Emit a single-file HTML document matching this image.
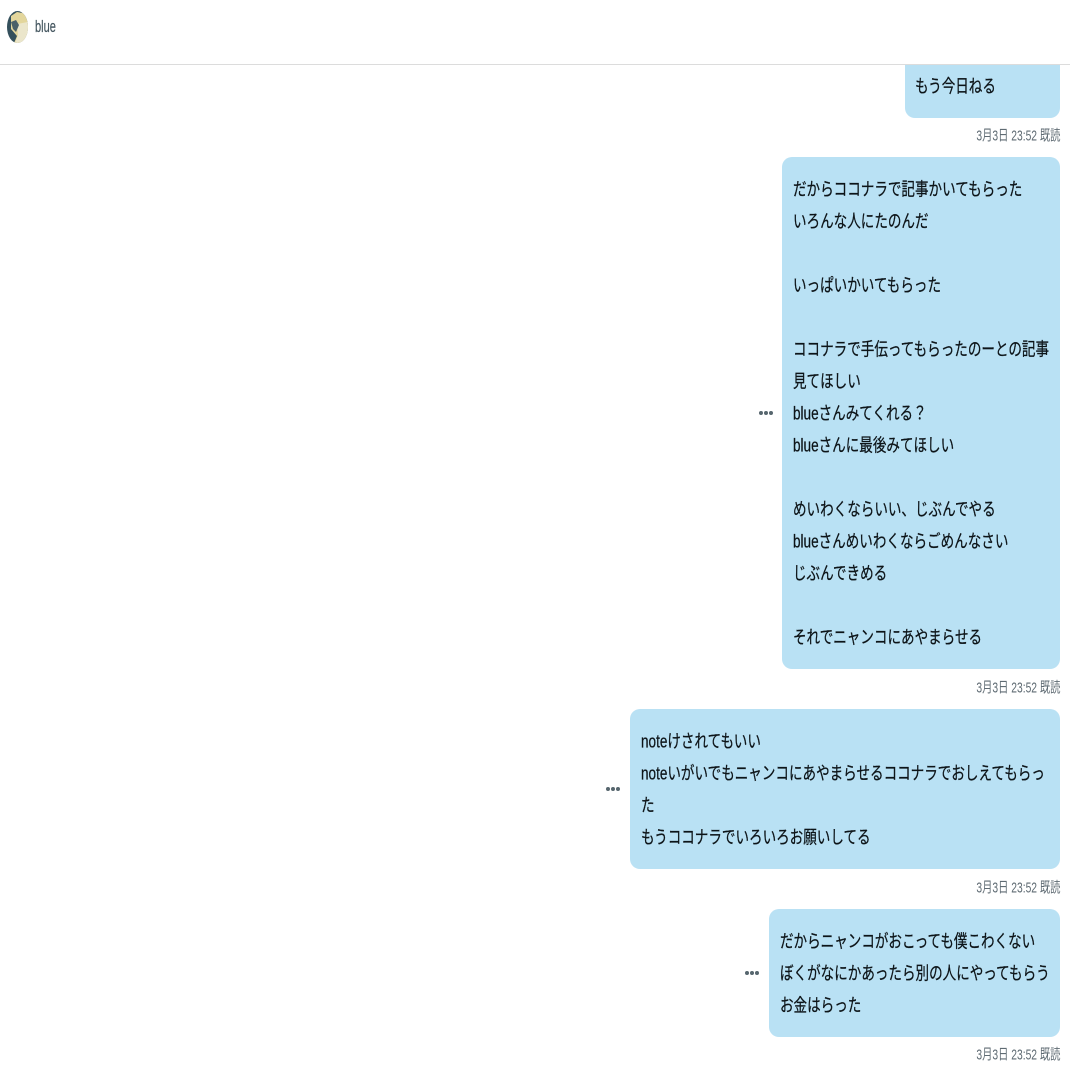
<!DOCTYPE html>
<html lang="ja"><head><meta charset="utf-8">
<style>
html,body{margin:0;padding:0;background:#fff;}
#p{position:relative;width:1070px;height:1070px;overflow:hidden;background:#fff;font-family:"Liberation Sans","Noto Sans CJK JP",sans-serif;}
.b{position:absolute;background:#b9e1f4;border-radius:10px;}
.t{position:absolute;white-space:pre;font-size:18px;line-height:32px;height:32px;color:#0d1418;transform:translateY(1.5px) scaleX(.753);transform-origin:0 50%;-webkit-text-stroke:.25px #0d1418;}
.s{position:absolute;right:10px;white-space:pre;font-size:14.5px;line-height:20px;color:#5f6b73;transform:translateY(1.5px) scaleX(.71);transform-origin:100% 50%;}
.d{position:absolute;width:15px;height:4px;}
.d i{position:absolute;top:0;width:4px;height:4px;border-radius:50%;background:#56666e;}
.d i:nth-child(1){left:0}.d i:nth-child(2){left:5px}.d i:nth-child(3){left:10px}
</style></head><body><div id="p">
<div class="b" style="left:905px;top:50px;width:155px;height:68px"></div>
<div class="b" style="left:782px;top:157px;width:278px;height:512px"></div>
<div class="b" style="left:630px;top:709px;width:430px;height:160px"></div>
<div class="b" style="left:769px;top:909px;width:291px;height:128px"></div>

<div style="position:absolute;left:0;top:0;width:1070px;height:64px;background:#fff;border-bottom:1px solid #dcdcdc"></div>
<svg style="position:absolute;left:0;top:0" width="40" height="50">
<defs><clipPath id="c"><ellipse cx="17.5" cy="27" rx="10.5" ry="16"/></clipPath></defs>
<ellipse cx="17.5" cy="27" rx="10.5" ry="16" fill="#34505c"/>
<g clip-path="url(#c)">
<path d="M11 16 L17 12 L28 14 L28 43 L14 43 L17 36 L11 29 Z" fill="#e3d69c"/>
<path d="M17 24 L28 22 L28 43 L15 43 L18 35 Z" fill="#ebe6cb"/>
<path d="M11 22 L16 20 L19 25 L16 32 L13 29 Z" fill="#4a6068"/>
</g></svg>
<div class="t" style="left:35px;top:11px;font-size:17px;color:#44565f;-webkit-text-stroke:.2px #44565f;transform:scaleX(.65)">blue</div>

<div class="t" style="left:915px;top:69px">もう今日ねる</div>
<div class="s" style="top:125px">3月3日 23:52 既読</div>

<div class="t" style="left:793px;top:172px">だからココナラで記事かいてもらった</div>
<div class="t" style="left:793px;top:204px">いろんな人にたのんだ</div>
<div class="t" style="left:793px;top:268px">いっぱいかいてもらった</div>
<div class="t" style="left:793px;top:332px">ココナラで手伝ってもらったのーとの記事</div>
<div class="t" style="left:793px;top:364px">見てほしい</div>
<div class="t" style="left:793px;top:396px">blueさんみてくれる？</div>
<div class="t" style="left:793px;top:428px">blueさんに最後みてほしい</div>
<div class="t" style="left:793px;top:492px">めいわくならいい、じぶんでやる</div>
<div class="t" style="left:793px;top:524px">blueさんめいわくならごめんなさい</div>
<div class="t" style="left:793px;top:556px">じぶんできめる</div>
<div class="t" style="left:793px;top:620px">それでニャンコにあやまらせる</div>
<div class="s" style="top:677px">3月3日 23:52 既読</div>
<div class="d" style="left:759px;top:411px"><i></i><i></i><i></i></div>

<div class="t" style="left:641px;top:724px">noteけされてもいい</div>
<div class="t" style="left:641px;top:756px">noteいがいでもニャンコにあやまらせるココナラでおしえてもらっ</div>
<div class="t" style="left:641px;top:788px">た</div>
<div class="t" style="left:641px;top:820px">もうココナラでいろいろお願いしてる</div>
<div class="s" style="top:877px">3月3日 23:52 既読</div>
<div class="d" style="left:606px;top:787px"><i></i><i></i><i></i></div>

<div class="t" style="left:780px;top:924px">だからニャンコがおこっても僕こわくない</div>
<div class="t" style="left:780px;top:956px">ぼくがなにかあったら別の人にやってもらう</div>
<div class="t" style="left:780px;top:988px">お金はらった</div>
<div class="s" style="top:1044px">3月3日 23:52 既読</div>
<div class="d" style="left:745px;top:971px"><i></i><i></i><i></i></div>
</div></body></html>
